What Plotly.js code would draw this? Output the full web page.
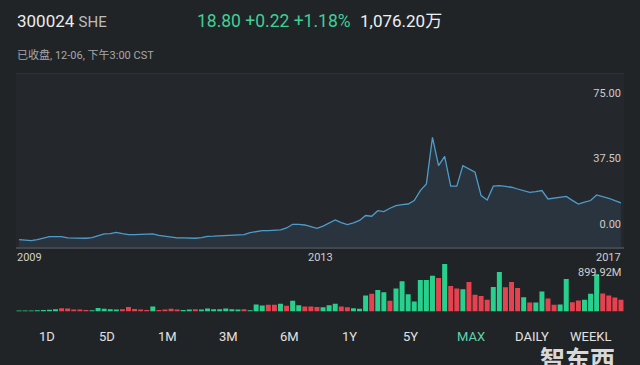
<!DOCTYPE html>
<html>
<head>
<meta charset="utf-8">
<script src="https://cdn.plot.ly/plotly-3.0.1.min.js"></script>
<style>
  html, body { margin: 0; padding: 0; background: #212427; }
  #chart { width: 640px; height: 365px; }
</style>
</head>
<body>
<div id="chart"></div>
<script>
// ---------- data ----------
const tickLabels = ['2009', '2013', '2017'];
const priceTickVals = [0, 37.5, 75];
const priceTickText = ['0.00', '37.50', '75.00'];
const volumeLabel = '899.92M';
const rangeButtons = ['1D', '5D', '1M', '3M', '6M', '1Y', '5Y', 'MAX', 'DAILY', 'WEEKL'];

// price line (monthly), in the units of the price axis as drawn
const price = [
  -9.0, -9.2, -9.5, -9.0, -8.0, -7.3, -7.3, -7.3, -8.0, -8.2,
  -8.2, -8.2, -7.8, -6.8, -5.7, -5.5, -4.8, -5.5, -6.1, -6.1,
  -6.1, -6.0, -5.7, -6.5, -7.1, -7.3, -8.0, -8.0, -8.2, -8.2,
  -7.8, -7.1, -7.0, -6.9, -6.7, -6.5, -6.3, -6.1, -5.0, -4.3,
  -3.8, -3.8, -3.5, -3.4, -2.3, -0.2, -0.3, -0.6, -1.5, -2.5,
  -1.2, 0.4, 2.3, 0.8, -0.4, 0.6, 2.0, 4.8, 4.4, 7.6,
  7.1, 9.0, 10.5, 11.0, 11.4, 13.4, 19.1, 22.9, 49.6, 33.4,
  38.7, 21.6, 21.6, 33.4, 31.5, 29.6, 16.2, 13.7, 21.6, 21.9,
  21.5, 21.0, 20.0, 19.1, 18.1, 18.5, 19.1, 14.3, 14.8, 15.3,
  15.8, 13.5, 11.4, 12.5, 13.4, 16.6, 15.8, 14.7, 13.3, 12.0
];

// monthly volume, millions
const volume = [
  19, 19, 19, 23, 28, 32, 43, 62, 57, 38,
  38, 28, 25, 66, 51, 42, 38, 43, 85, 47,
  38, 28, 94, 28, 38, 51, 38, 28, 38, 43,
  38, 57, 43, 43, 57, 43, 38, 43, 25, 132,
  113, 126, 126, 145, 108, 202, 119, 94, 94, 85,
  81, 119, 145, 94, 81, 62, 51, 302, 334, 409,
  364, 202, 434, 572, 326, 189, 598, 598, 679, 636,
  899.92, 485, 434, 421, 560, 315, 296, 221, 466, 749,
  459, 560, 447, 270, 170, 170, 377, 245, 126, 132,
  617, 175, 208, 221, 334, 704, 340, 302, 264, 221
];

// 1 = up month, -1 = down month
const direction = [
  1, 1, 1, 1, 1, 1, 1, -1, -1, -1,
  -1, -1, 1, 1, 1, 1, 1, -1, -1, -1,
  -1, -1, 1, -1, -1, -1, -1, 1, 1, -1,
  1, 1, 1, 1, 1, 1, 1, -1, 1, 1,
  1, -1, -1, 1, -1, 1, 1, -1, -1, -1,
  1, 1, 1, -1, -1, 1, 1, 1, -1, 1,
  1, -1, 1, 1, 1, 1, 1, 1, 1, -1,
  1, -1, -1, 1, -1, -1, -1, -1, 1, 1,
  -1, -1, -1, 1, -1, 1, 1, -1, -1, 1,
  1, -1, -1, 1, 1, 1, -1, -1, -1, -1
];

// ---------- drawing ----------
const W = 640, H = 365;
const px = x => x / W;
const py = y => 1 - y / H;

const idx = price.map((_, i) => i);
const Y_MIN = -13.2, Y_MAX = 86.4;
const UP = '#27d08c', DOWN = '#e5414f';

const baseline = {
  x: idx, y: idx.map(() => Y_MIN), type: 'scatter', mode: 'lines',
  line: { width: 0 }, hoverinfo: 'skip', showlegend: false,
  xaxis: 'x', yaxis: 'y'
};
const priceTrace = {
  x: idx, y: price, type: 'scatter', mode: 'lines',
  line: { color: '#4e9ccc', width: 1.3 },
  fill: 'tonexty', fillcolor: '#29343f',
  showlegend: false, xaxis: 'x', yaxis: 'y'
};
const volTrace = {
  x: idx, y: volume, type: 'bar',
  marker: { color: direction.map(d => d > 0 ? UP : DOWN), line: { width: 0 } },
  showlegend: false, xaxis: 'x2', yaxis: 'y2'
};

const txt = (text, x, y, size, color, xanchor, extra) => Object.assign({
  text, x: px(x), y: py(y), xref: 'paper', yref: 'paper',
  xanchor: xanchor || 'left', yanchor: 'middle', showarrow: false,
  font: { family: 'Roboto, "Noto Sans CJK SC", sans-serif', size, color }
}, extra || {});

const annotations = [
  txt('300024 <span style="color:#bcbcbc;font-size:15px">SHE</span>', 15, 21, 17, '#ececec'),
  txt('18.80 +0.22 +1.18%', 195, 21, 17.5, '#3fcf94'),
  txt('1,076.20万', 358, 21, 17, '#f0f0f0'),
  txt('已收盘, 12-06, 下午3:00 CST', 15, 55, 11, '#a7a7a7'),
  txt(tickLabels[0], 15, 257, 11, '#cfcfcf', 'left'),
  txt(tickLabels[1], 320, 257, 11, '#cfcfcf', 'center'),
  txt(tickLabels[2], 623, 257, 11, '#cfcfcf', 'right'),
  txt(volumeLabel, 623, 272, 11, '#cfcfcf', 'right')
];
const btnX = [47, 107, 167, 228, 289, 349, 410, 471, 532, 590];
rangeButtons.forEach((b, i) => {
  annotations.push(txt(b, btnX[i], 336, 13, b === 'MAX' ? '#5fd3b0' : '#e2e2e2', 'center'));
});
annotations.push(txt('<b>智东西</b>', 577, 358, 25, 'rgba(235,235,235,0.92)', 'center',
  { font: { family: '"Noto Sans CJK SC", sans-serif', size: 25, color: 'rgba(235,235,235,0.92)' } }));

const layout = {
  width: W, height: H,
  margin: { l: 0, r: 0, t: 0, b: 0 },
  paper_bgcolor: '#212427',
  plot_bgcolor: 'rgba(0,0,0,0)',
  bargap: 0.18,
  showlegend: false,
  xaxis: {
    domain: [px(16), px(624)], range: [-0.5, idx.length - 0.5],
    showticklabels: false, ticks: '', showgrid: false, zeroline: false,
    showline: true, linecolor: '#44474c', linewidth: 2, fixedrange: true
  },
  yaxis: {
    domain: [py(247), py(73)], range: [Y_MIN, Y_MAX],
    side: 'right', ticklabelposition: 'inside', ticks: '',
    tickvals: priceTickVals, ticktext: priceTickText,
    tickfont: { family: 'Roboto, sans-serif', size: 11, color: '#cdcdcd' },
    showgrid: false, zeroline: false, showline: false, fixedrange: true
  },
  xaxis2: {
    domain: [px(16), px(624)], range: [-0.5, idx.length - 0.5], anchor: 'y2',
    visible: false, fixedrange: true
  },
  yaxis2: {
    domain: [py(311.5), py(264)], range: [0, 899.92], anchor: 'x2',
    visible: false, fixedrange: true
  },
  shapes: [
    { type: 'rect', xref: 'paper', yref: 'paper', layer: 'below',
      x0: px(16), x1: px(624), y0: py(247), y1: py(73),
      fillcolor: '#24282c', line: { width: 0 } },
    { type: 'line', xref: 'paper', yref: 'paper', layer: 'below',
      x0: px(16), x1: px(624), y0: py(73.5), y1: py(73.5),
      line: { color: '#2f3338', width: 1 } }
  ],
  annotations
};

Plotly.newPlot('chart', [baseline, priceTrace, volTrace], layout, { displayModeBar: false, staticPlot: true });
</script>
</body>
</html>
